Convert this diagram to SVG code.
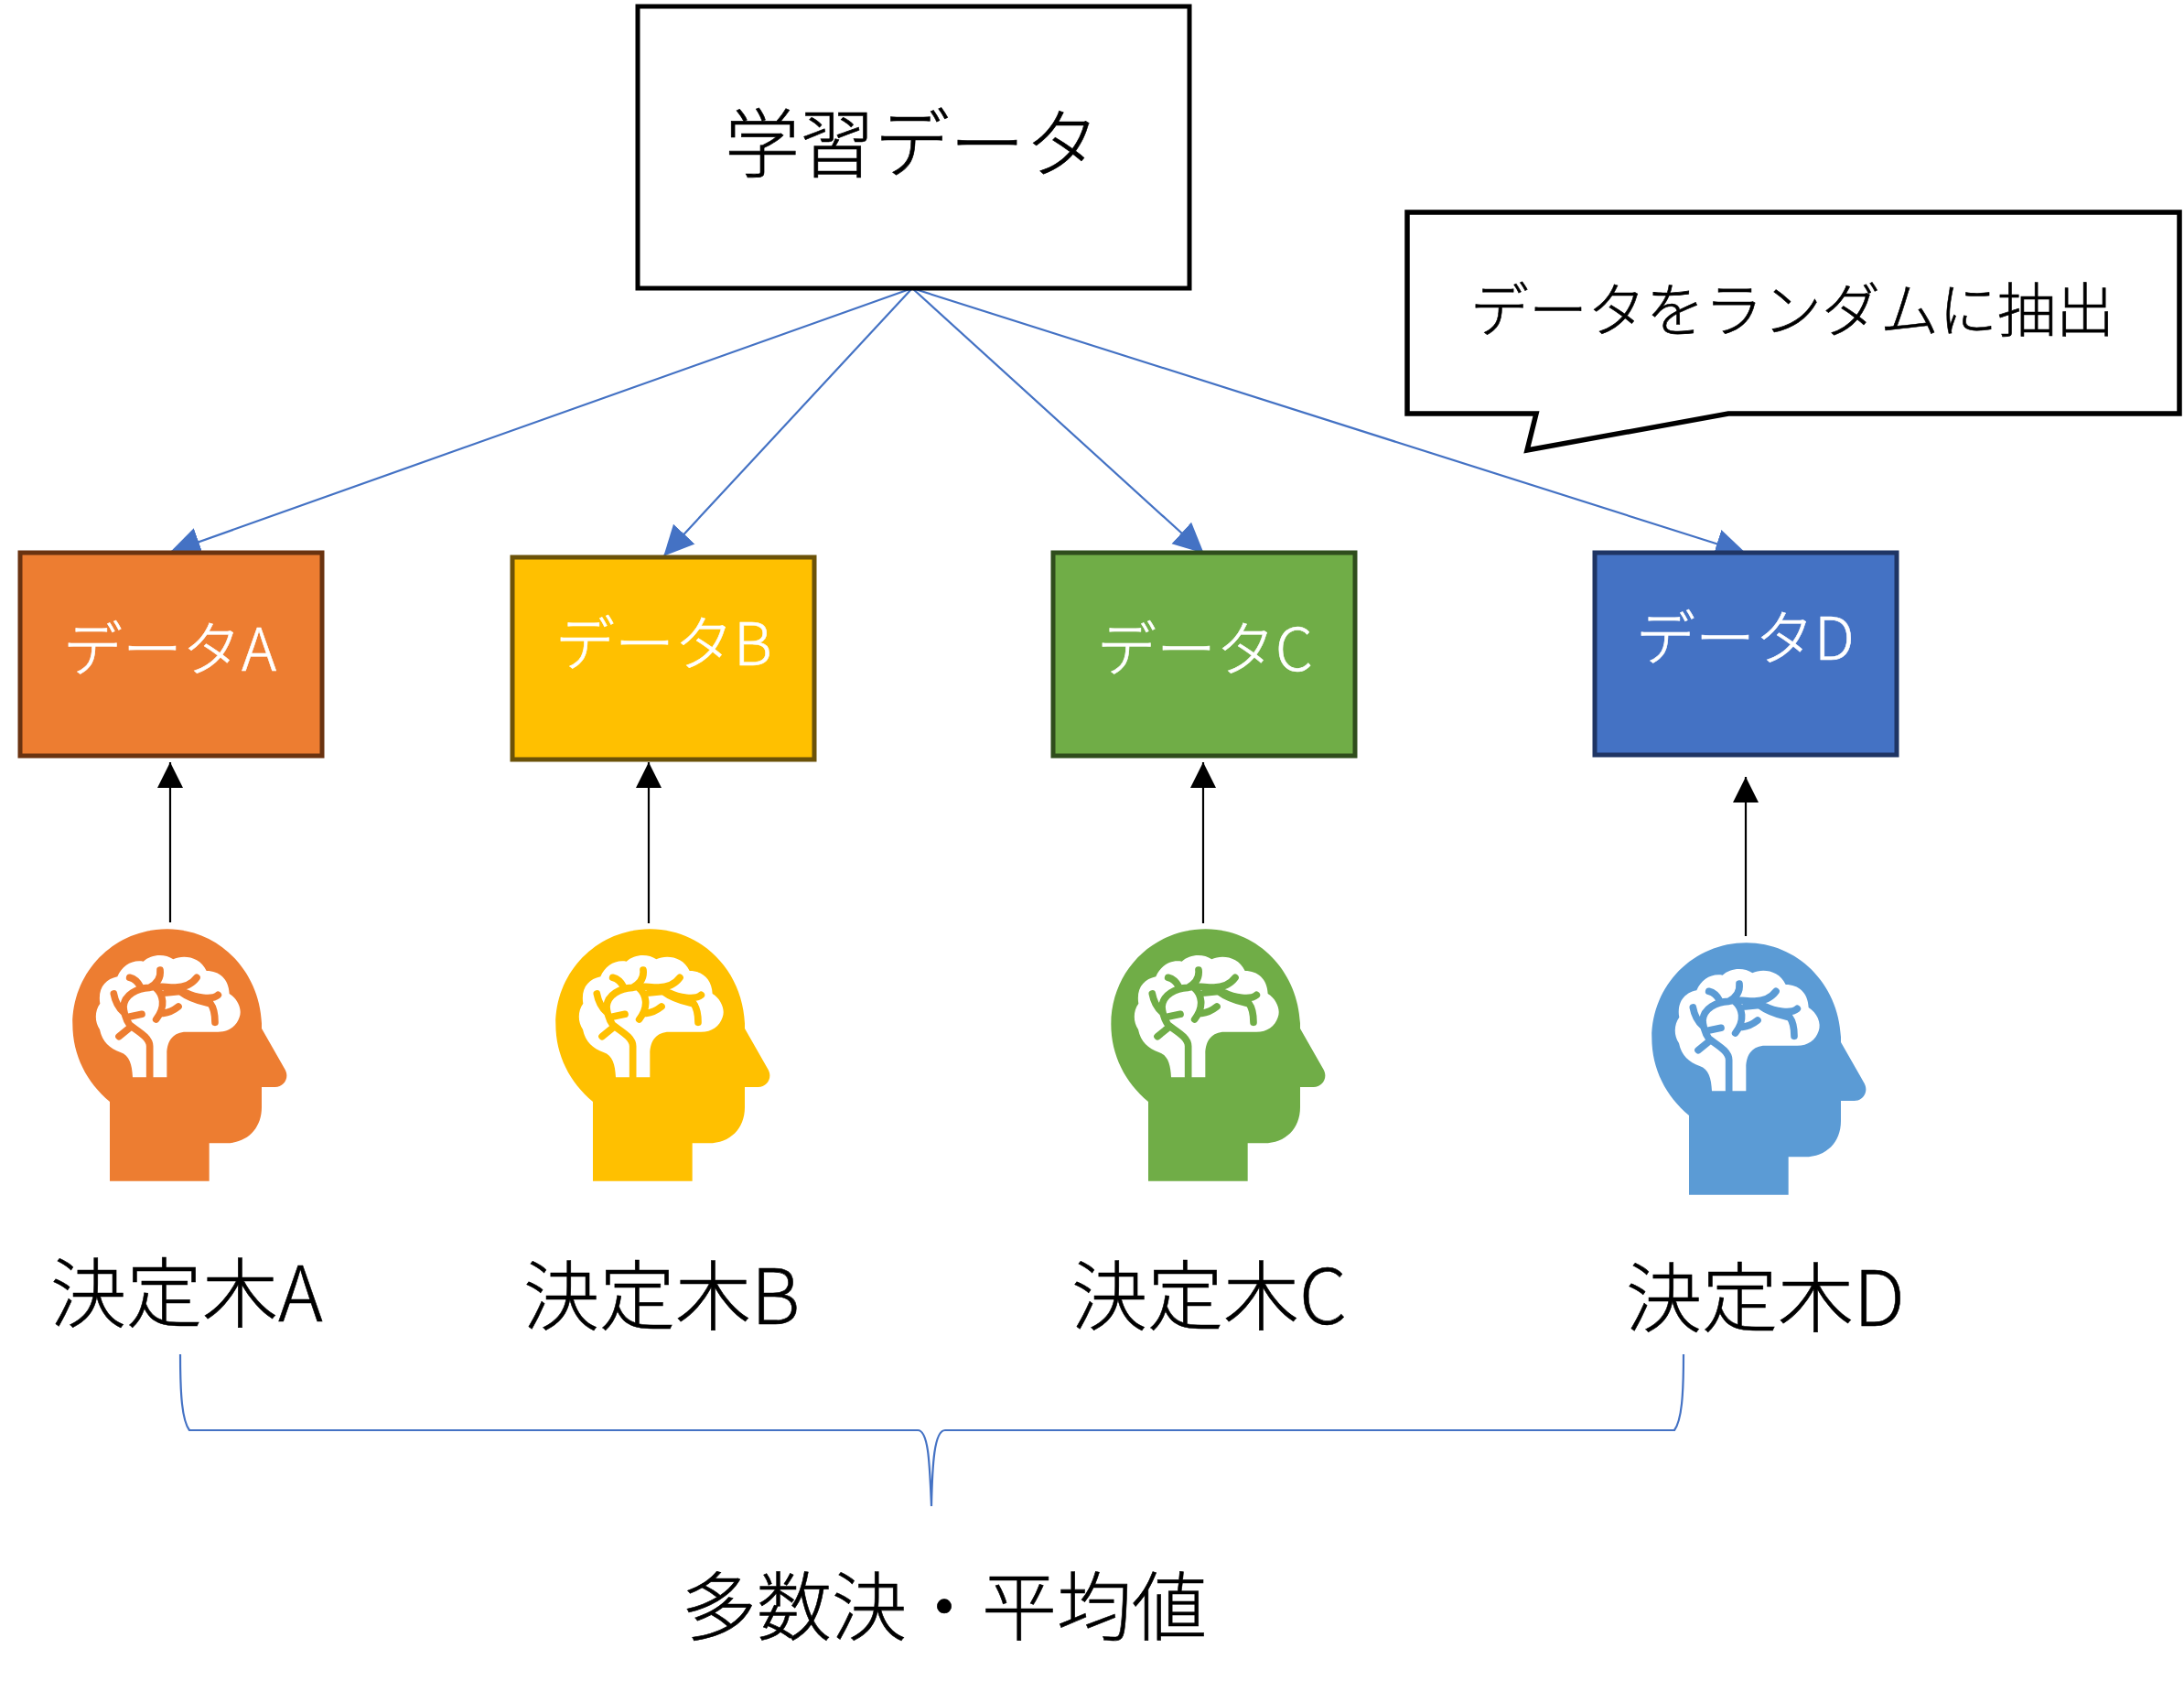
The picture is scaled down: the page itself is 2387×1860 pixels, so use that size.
<svg xmlns="http://www.w3.org/2000/svg" xmlns:xlink="http://www.w3.org/1999/xlink" width="2387" height="1860" viewBox="0 0 2387 1860">
<style>
text{font-family:"Noto Sans CJK JP","Noto Sans CJK SC",sans-serif;font-weight:300;fill:#000;stroke:#000;stroke-width:.6px}
.w{fill:#fff;stroke:#fff;font-size:65px}
.l{font-size:83px}
.blue{stroke:#4472C4;stroke-width:2.2;fill:none}
.bk{stroke:#000;stroke-width:2.2;fill:none}
.br{fill:none;stroke-width:23;stroke-linecap:round;stroke-linejoin:round}
</style>
<defs>
<marker id="mb" markerUnits="userSpaceOnUse" markerWidth="34" markerHeight="34" viewBox="0 0 34 34" refX="32" refY="17" orient="auto"><path d="M0 1L33 17L0 33Z" fill="#4472C4"/></marker>
<marker id="mk" markerUnits="userSpaceOnUse" markerWidth="30" markerHeight="30" viewBox="0 0 30 30" refX="28" refY="15" orient="auto"><path d="M0 1L28 15L0 29Z" fill="#000"/></marker>
<path id="skull" d="M210 672V932H536V808H590C660 808 708 760 708 690V624H752C780 624 800 595 785 567L708 432V415C700 240 565 106 398 106C225 106 88 245 88 418C88 520 135 610 210 672Z"/>
<path id="brain" fill="#fff" d="M285 592C283 550 275 520 245 510C210 497 185 475 177 435C160 410 160 375 178 350C170 300 195 270 235 262C250 225 285 205 320 212C345 188 390 185 418 205C450 190 505 195 527 243C570 243 600 270 602 318C630 335 645 370 635 395C625 425 600 443 565 443H460C420 443 397 470 397 515V592Z"/>
<path id="veins" class="br" d="M341 592V490C341 460 300 440 275 420C260 400 255 370 255 360C258 320 300 300 340 298C370 290 390 297 425 297C455 297 480 285 495 265M375 240C378 265 365 285 340 298M275 265C295 270 305 285 310 295M223 318C228 345 240 365 255 378M265 395L315 385M240 458L275 430M360 298C385 320 395 360 362 402M385 382C405 380 420 372 435 360M395 315L440 310C480 340 520 345 540 350C555 370 555 395 555 412M460 315C490 330 545 340 565 322"/>
</defs>
<g id="connectors">
<path class="blue" marker-end="url(#mb)" d="M997 315L187 603"/>
<path class="blue" marker-end="url(#mb)" d="M997 315L726 607"/>
<path class="blue" marker-end="url(#mb)" d="M997 315L1315 604"/>
<path class="blue" marker-end="url(#mb)" d="M997 315L1907 604"/>
<path class="bk" marker-end="url(#mk)" d="M186 1008V833"/>
<path class="bk" marker-end="url(#mk)" d="M709 1009V833"/>
<path class="bk" marker-end="url(#mk)" d="M1315 1009V833"/>
<path class="bk" marker-end="url(#mk)" d="M1908 1023V849"/>
<path class="blue" id="brace" d="M197 1480C197 1525 199 1552 207 1563H1003C1015 1563 1016 1600 1018 1646C1019 1600 1021 1563 1033 1563H1830C1838 1552 1840 1525 1840 1480"/>
</g>
<g id="train"><rect x="697" y="7" width="603" height="308" fill="#fff" stroke="#000" stroke-width="5"/><text x="792" y="187" style="font-size:82px">学習データ</text></g>
<g id="note"><path d="M1538 232H2382V452H1889L1669 492L1679 452H1538Z" fill="#fff" stroke="#000" stroke-width="5.5"/><text x="1607" y="362" style="font-size:64px">データをランダムに抽出</text></g>
<g id="dataA"><rect x="22" y="604" width="330" height="222" fill="#ED7D31" stroke="#6a3310" stroke-width="5"/><text class="w" x="69" y="733">データA</text></g>
<g id="dataB"><rect x="560" y="609" width="330" height="221" fill="#FFC000" stroke="#6b5208" stroke-width="5"/><text class="w" x="607" y="727">データB</text></g>
<g id="dataC"><rect x="1151" y="604" width="330" height="222" fill="#70AD47" stroke="#2f4d1c" stroke-width="5"/><text class="w" x="1199" y="733">データC</text></g>
<g id="dataD"><rect x="1743" y="604" width="330" height="221" fill="#4472C4" stroke="#1f3564" stroke-width="5"/><text class="w" x="1788" y="721">データD</text></g>
<g id="headA" transform="translate(50 980) scale(.33333)" fill="#ED7D31" stroke="#ED7D31"><use xlink:href="#skull" stroke="none"/><use xlink:href="#brain" stroke="none"/><use xlink:href="#veins"/></g>
<g id="headB" transform="translate(578 980) scale(.33333)" fill="#FFC000" stroke="#FFC000"><use xlink:href="#skull" stroke="none"/><use xlink:href="#brain" stroke="none"/><use xlink:href="#veins"/></g>
<g id="headC" transform="translate(1185 980) scale(.33333)" fill="#70AD47" stroke="#70AD47"><use xlink:href="#skull" stroke="none"/><use xlink:href="#brain" stroke="none"/><use xlink:href="#veins"/></g>
<g id="headD" transform="translate(1776 995) scale(.33333)" fill="#5B9BD5" stroke="#5B9BD5"><use xlink:href="#skull" stroke="none"/><use xlink:href="#brain" stroke="none"/><use xlink:href="#veins"/></g>
<g id="treeA"><text class="l" x="55" y="1444">決定木A</text></g>
<g id="treeB"><text class="l" x="572" y="1447">決定木B</text></g>
<g id="treeC"><text class="l" x="1171" y="1447">決定木C</text></g>
<g id="treeD"><text class="l" x="1777" y="1449">決定木D</text></g>
<g id="vote"><text x="745" y="1786" style="font-size:82px">多数決・平均値</text></g>
</svg>
